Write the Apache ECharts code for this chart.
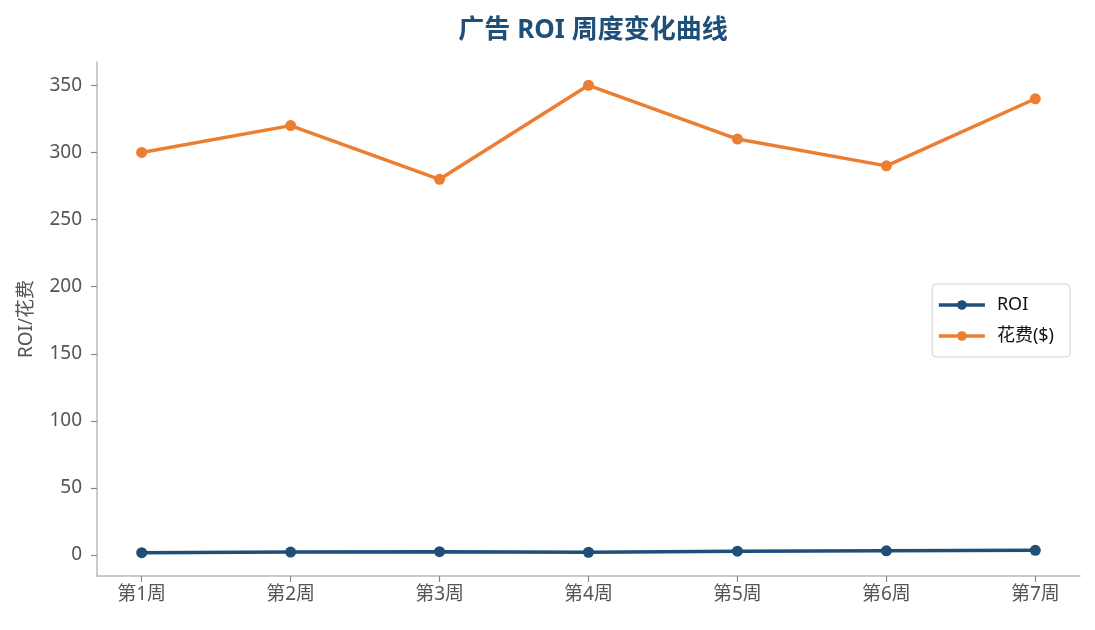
<!DOCTYPE html>
<html><head><meta charset="utf-8">
<script src="https://cdn.jsdelivr.net/npm/echarts@6/dist/echarts.min.js"></script>
<style>html,body{margin:0;padding:0;background:#fff}#c{width:1095px;height:630px}</style>
</head><body><div id="c"></div>
<script>
const categories = ['第1周','第2周','第3周','第4周','第5周','第6周','第7周'];
const roiValues = [1.8, 2.2, 2.5, 2.1, 2.9, 3.2, 3.5];
const spendValues = [300, 320, 280, 350, 310, 290, 340];
const yTicks = [0, 50, 100, 150, 200, 250, 300, 350];
const xTicks = [0, 1, 2, 3, 4, 5, 6];

const font = '"Noto Sans", "Noto Sans CJK SC", sans-serif';
const chart = echarts.init(document.getElementById('c'));
chart.setOption({
  animation: false,
  textStyle: { fontFamily: font },
  title: {
    text: '广告 ROI 周度变化曲线', left: 588, top: 13, textAlign: 'center',
    textStyle: { fontSize: 26, fontWeight: 'bold', color: '#1f4e79', fontFamily: font }
  },
  grid: { left: 97, right: 15, top: 62, bottom: 54, containLabel: false },
  legend: {
    orient: 'vertical', right: 25, top: 284,
    data: [
      { name: 'ROI', lineStyle: { width: 3.5, color: '#1f4e79' } },
      { name: '花费($)', lineStyle: { width: 3.5, color: '#ed7d31' } }
    ],
    itemWidth: 46, itemHeight: 12, itemGap: 13,
    padding: [12, 16, 12, 5],
    borderColor: '#d0d0d0', borderWidth: 1, borderRadius: 4,
    textStyle: { fontSize: 18, color: '#111', fontFamily: font, padding: [0, 0, 0, 7] }
  },
  xAxis: {
    type: 'value', min: -0.3, max: 6.3,
    axisLine: { show: true, onZero: false, lineStyle: { color: '#bbbbbb', width: 1.5 } },
    axisTick: { show: true, customValues: xTicks, length: 6, lineStyle: { color: '#888', width: 1.2 } },
    axisLabel: { customValues: xTicks, formatter: v => categories[Math.round(v)], fontSize: 19, color: '#555', margin: 9 },
    splitLine: { show: false }
  },
  yAxis: {
    type: 'value', min: -15.6, max: 367.4,
    name: 'ROI/花费', nameLocation: 'middle', nameGap: 61,
    nameTextStyle: { fontSize: 19, color: '#555' },
    axisLine: { show: true, onZero: false, lineStyle: { color: '#bbbbbb', width: 1.5 } },
    axisTick: { show: true, customValues: yTicks, length: 6, lineStyle: { color: '#888', width: 1.2 } },
    axisLabel: { customValues: yTicks, fontSize: 19, color: '#555', margin: 15 },
    splitLine: { show: false }
  },
  series: [
    { name: 'ROI', type: 'line', data: roiValues.map((v, i) => [i, v]),
      symbol: 'circle', symbolSize: 11, color: '#1f4e79',
      lineStyle: { width: 3.5, color: '#1f4e79' }, itemStyle: { color: '#1f4e79' } },
    { name: '花费($)', type: 'line', data: spendValues.map((v, i) => [i, v]),
      symbol: 'circle', symbolSize: 11, color: '#ed7d31',
      lineStyle: { width: 3.5, color: '#ed7d31' }, itemStyle: { color: '#ed7d31' } }
  ]
});
</script></body></html>
